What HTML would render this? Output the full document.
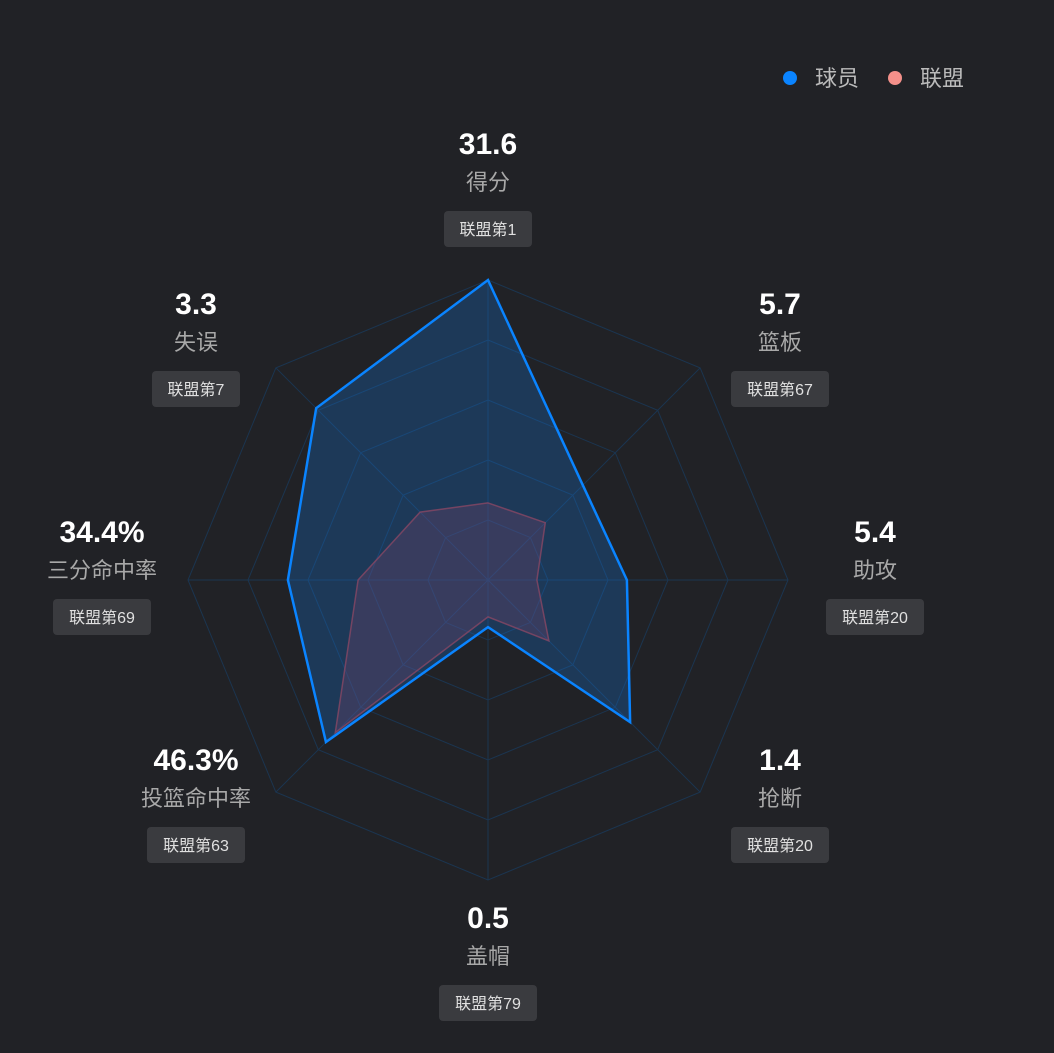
<!DOCTYPE html>
<html><head><meta charset="utf-8"><style>
html,body{margin:0;padding:0;background:#212226;}
body{width:1054px;height:1053px;overflow:hidden;font-family:"Liberation Sans","Noto Sans CJK SC",sans-serif;}
</style></head><body>
<svg id="chart" width="1054" height="1053" xmlns="http://www.w3.org/2000/svg" style="position:absolute;left:0;top:0"></svg>
<script>
const categories=["得分","篮板","助攻","抢断","盖帽","投篮命中率","三分命中率","失误"];
const displayValues=["31.6","5.7","5.4","1.4","0.5","46.3%","34.4%","3.3"];
const ranks=["联盟第1","联盟第67","联盟第20","联盟第20","联盟第79","联盟第63","联盟第69","联盟第7"];
const playerScores=[100,44.7,46.3,67,15.7,76.4,66.7,81];
const leagueScores=[25.7,27,16.3,28.7,12.3,72,43.3,32];
const ringCount=5;
const maxScore=100;

const NS="http://www.w3.org/2000/svg";
const svg=document.getElementById('chart');
const cx=488,cy=580,R=300;
function ang(i){return i*2*Math.PI/categories.length;}
function pt(i,v){const a=ang(i),r=v/maxScore*R;return [cx+r*Math.sin(a),cy-r*Math.cos(a)];}
function mk(tag,attrs){const e=document.createElementNS(NS,tag);for(const k in attrs)e.setAttribute(k,attrs[k]);svg.appendChild(e);return e;}

for(let k=1;k<=ringCount;k++){
  const pts=categories.map((c,i)=>pt(i,maxScore*k/ringCount).join(',')).join(' ');
  const e=mk('polygon',{points:pts,fill:'none',stroke:'#1b3550','stroke-width':1});
  
  
}
categories.forEach((c,i)=>{
  const p=pt(i,maxScore);
  const e=mk('line',{x1:cx,y1:cy,x2:p[0],y2:p[1],stroke:'#1b3550','stroke-width':1});
  
  
});
const pl=mk('polygon',{points:playerScores.map((v,i)=>pt(i,v).join(',')).join(' '),fill:'rgba(20,120,220,0.28)',stroke:'#0a84ff','stroke-width':2.5,'stroke-linejoin':'miter'});


const lg=mk('polygon',{points:leagueScores.map((v,i)=>pt(i,v).join(',')).join(' '),fill:'rgba(120,70,110,0.3)',stroke:'rgba(130,70,100,0.85)','stroke-width':1.5});



// label layout anchors (name text center)
const labelPos=[[488,181],[780,341],[875,569],[780,797],[488,955],[196,797],[102,569],[196,341]];
categories.forEach((c,i)=>{
  const [x,y]=labelPos[i];
  const v=mk('text',{x:x,y:y-27,'text-anchor':'middle','font-size':30,'font-weight':'bold',fill:'#ffffff'});
  v.textContent=displayValues[i];
  
  
  const n=mk('text',{x:x,y:y+9,'text-anchor':'middle','font-size':22,fill:'#a8a8a8'});
  n.textContent=c;
  
  
  const w=ranks[i].length>4?98:88;
  const b=mk('rect',{x:x-w/2,y:y+30,width:w,height:36,rx:4,fill:'#3a3b3f'});
  
  
  const t=mk('text',{x:x,y:y+54,'text-anchor':'middle','font-size':16,fill:'#e0e0e0'});
  t.textContent=ranks[i];
  
  
});
// legend
[[790,'#0a84ff','球员'],[895,'#f4908a','联盟']].forEach(([x,col,lab])=>{
  const c=mk('circle',{cx:x,cy:78,r:7,fill:col});
  
  
  const t=mk('text',{x:x+25,y:86,'font-size':22,fill:'#bbbbbb'});
  t.textContent=lab;
  
  
});
</script>
</body></html>
